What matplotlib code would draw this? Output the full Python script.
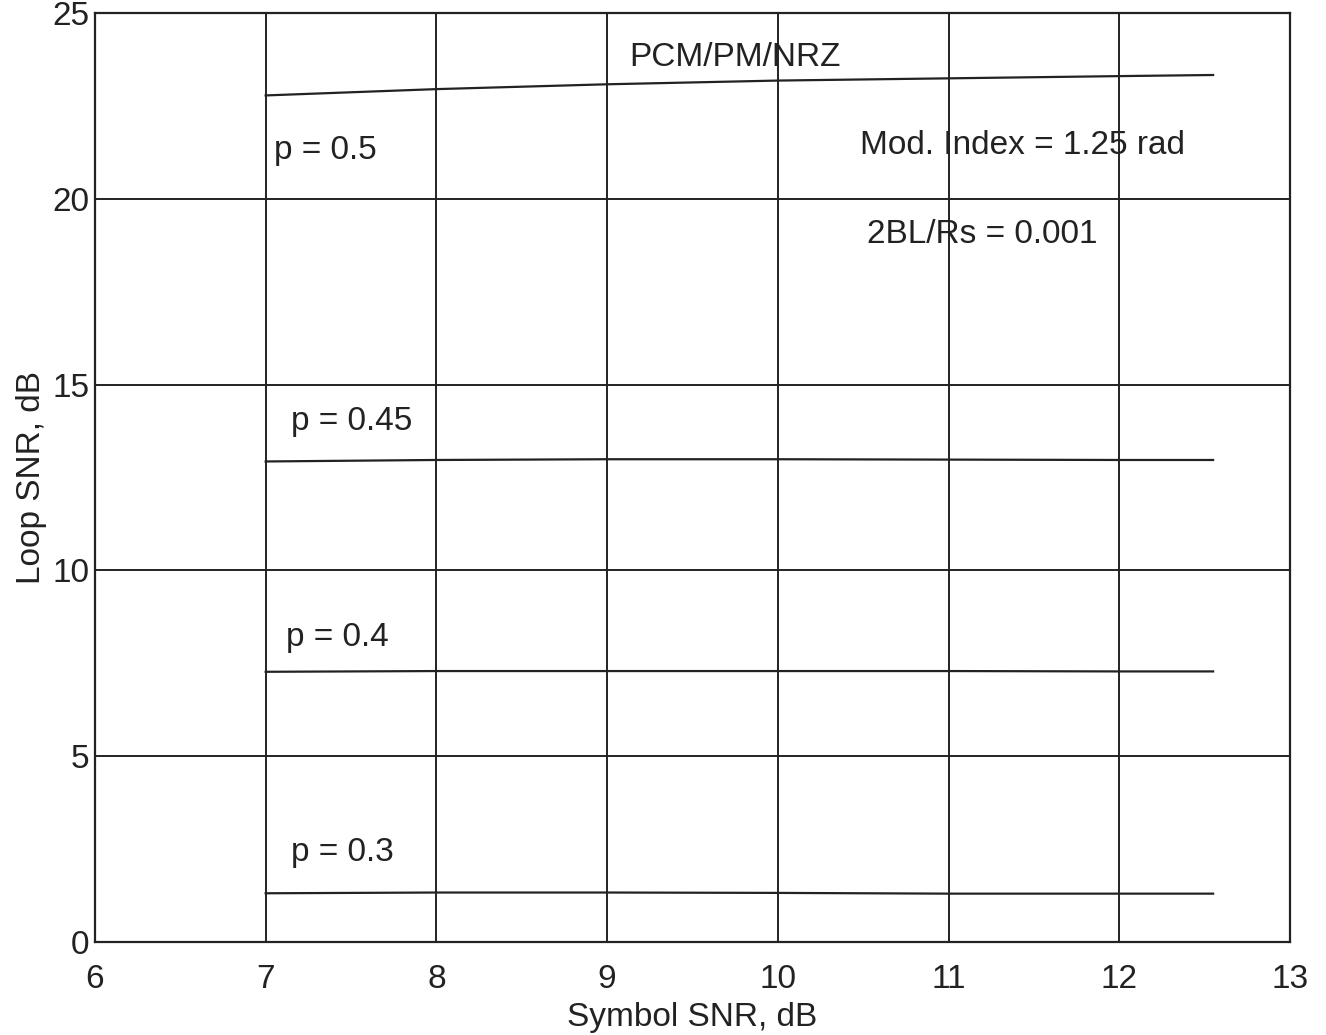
import matplotlib.pyplot as plt

plt.rcParams['font.family'] = ['Liberation Sans', 'DejaVu Sans']

# symbol SNR (dB) and loop SNR (dB) for each p
sym_snr = [7, 8, 9, 10, 11, 12, 12.55]
loop_p05 = [22.78, 22.95, 23.08, 23.18, 23.24, 23.3, 23.33]
loop_p045 = [12.93, 12.97, 12.99, 12.99, 12.98, 12.97, 12.97]
loop_p04 = [7.27, 7.29, 7.29, 7.29, 7.29, 7.28, 7.28]
loop_p03 = [1.31, 1.33, 1.33, 1.32, 1.3, 1.3, 1.3]

xticks = [6, 7, 8, 9, 10, 11, 12, 13]
yticks = [0, 5, 10, 15, 20, 25]

fig = plt.figure(figsize=(13.26, 10.35), dpi=100)
ax = fig.add_axes([0.0716, 0.0899, 0.9012, 0.8976])

for y in (loop_p05, loop_p045, loop_p04, loop_p03):
    ax.plot(sym_snr, y, color='#222222', lw=1.6)

ax.set_xlim(6, 13)
ax.set_ylim(0, 25)
ax.set_xticks(xticks)
ax.set_yticks(yticks)
ax.grid(True, color='#222222', lw=1.4)
ax.set_axisbelow(True)
ax.tick_params(length=0, labelsize=24, colors='#222222')
ax.tick_params(axis='x', pad=16)
ax.tick_params(axis='y', pad=4)
for s in ax.spines.values():
    s.set_color('#222222')
    s.set_linewidth(1.6)

ax.set_xlabel('Symbol SNR, dB', fontsize=24, color='#222222', labelpad=5)
ax.set_ylabel('Loop SNR, dB', fontsize=24, color='#222222', labelpad=4)

fs = 24
ax.text(9.13, 23.8, 'PCM/PM/NRZ', fontsize=fs, va='center', color='#222222')
ax.text(10.48, 21.42, 'Mod. Index = 1.25 rad', fontsize=fs, va='center', color='#222222')
ax.text(10.52, 19.03, '2BL/Rs = 0.001', fontsize=fs, va='center', color='#222222')
ax.text(7.05, 21.29, 'p = 0.5', fontsize=fs, va='center', color='#222222')
ax.text(7.15, 14.0, 'p = 0.45', fontsize=fs, va='center', color='#222222')
ax.text(7.12, 8.2, 'p = 0.4', fontsize=fs, va='center', color='#222222')
ax.text(7.15, 2.4, 'p = 0.3', fontsize=fs, va='center', color='#222222')

fig.savefig('out.png', dpi=100)
